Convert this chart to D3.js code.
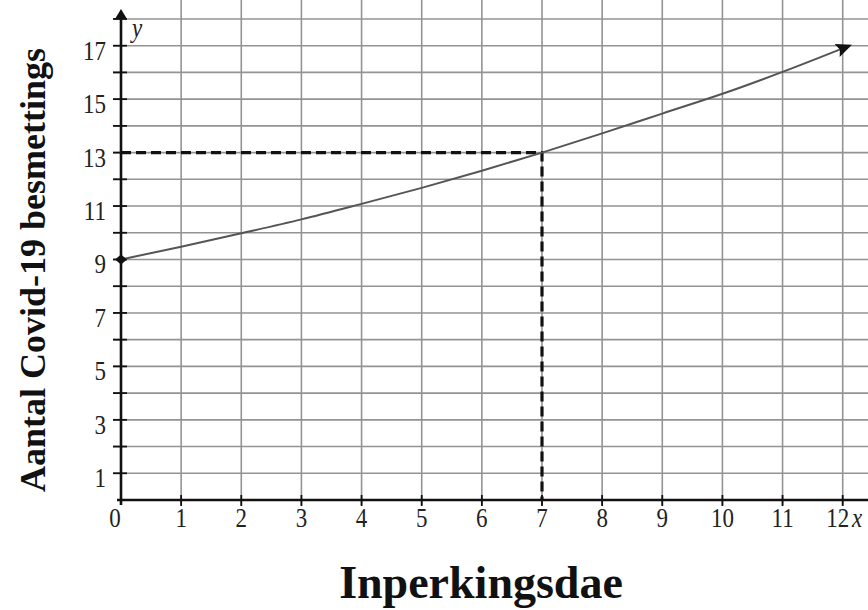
<!DOCTYPE html>
<html>
<head>
<meta charset="utf-8">
<script src="https://cdn.jsdelivr.net/npm/d3@7"></script>
<style>
  body { margin: 0; background: #fff; }
  svg { display: block; }
</style>
</head>
<body>
<div id="chart"></div>
<script>
// Values
const days = [0, 1, 2, 3, 4, 5, 6, 7, 8, 9, 10, 11, 12];
const infections = [9, 9.48, 9.98, 10.5, 11.08, 11.68, 12.32, 13, 13.72, 14.46, 15.2, 16.02, 16.9];
const xTickLabels = [0, 1, 2, 3, 4, 5, 6, 7, 8, 9, 10, 11, 12];
const yTickLabels = [1, 3, 5, 7, 9, 11, 13, 15, 17];
const marked = { x: 7, y: 13 };

const width = 868;
const height = 610;
const serif = '"Liberation Serif", "Times New Roman", serif';

const svg = d3.select('#chart').append('svg')
  .attr('width', width)
  .attr('height', height);

const x = d3.scaleLinear().domain([0, 12]).range([121, 842.7]);
const y = d3.scaleLinear().domain([0, 17]).range([500, 45.7]);

// grid: every unit both ways
const grid = svg.append('g')
  .attr('stroke', '#939393')
  .attr('stroke-width', 1.6);

grid.selectAll('line.h')
  .data(d3.range(1, 19))
  .join('line')
  .attr('class', 'h')
  .attr('x1', x(0) - 8)
  .attr('x2', width)
  .attr('y1', (d) => y(d))
  .attr('y2', (d) => y(d));

grid.selectAll('line.v')
  .data(d3.range(1, 13))
  .join('line')
  .attr('class', 'v')
  .attr('x1', (d) => x(d))
  .attr('x2', (d) => x(d))
  .attr('y1', 0)
  .attr('y2', y(0) + 5);

// axes
const axes = svg.append('g').attr('stroke', '#111').attr('stroke-width', 2.6);
axes.append('line')
  .attr('x1', x(0)).attr('x2', x(0))
  .attr('y1', y(0) + 5).attr('y2', 16);
axes.append('line')
  .attr('x1', x(0) - 4).attr('x2', width)
  .attr('y1', y(0)).attr('y2', y(0));

// small tick marks on the axes
axes.selectAll('line.yt')
  .data(d3.range(1, 19))
  .join('line')
  .attr('class', 'yt')
  .attr('stroke-width', 1.8)
  .attr('x1', x(0) - 8).attr('x2', x(0) + 6)
  .attr('y1', (d) => y(d)).attr('y2', (d) => y(d));

axes.selectAll('line.xt')
  .data(d3.range(1, 13))
  .join('line')
  .attr('class', 'xt')
  .attr('stroke-width', 1.8)
  .attr('x1', (d) => x(d)).attr('x2', (d) => x(d))
  .attr('y1', y(0) - 5).attr('y2', y(0) + 6);

// y axis arrow head
svg.append('path')
  .attr('d', `M${x(0)},9 L${x(0) - 6},19 L${x(0) + 6},19 Z`)
  .attr('fill', '#111');

// tick labels (the scan is a bit stretched vertically)
svg.append('g')
  .selectAll('text')
  .data(yTickLabels)
  .join('text')
  .attr('transform', (d) => `translate(${x(0) - 15},${y(d) + 14}) scale(1,1.2)`)
  .attr('text-anchor', 'end')
  .style('font', `23px ${serif}`)
  .attr('fill', '#222')
  .text((d) => d);

// first and last x labels sit a little left of their grid line
const xShift = (d) => (d === 0 ? -6 : d === 12 ? -5 : 0);
svg.append('g')
  .selectAll('text')
  .data(xTickLabels)
  .join('text')
  .attr('transform', (d) => `translate(${x(d) + xShift(d)},${y(0) + 27}) scale(1,1.15)`)
  .attr('text-anchor', 'middle')
  .style('font', `23px ${serif}`)
  .attr('fill', '#222')
  .text((d) => d);

svg.append('text')
  .attr('transform', `translate(852,${y(0) + 27}) scale(1,1.15)`)
  .style('font', `italic 23px ${serif}`)
  .attr('fill', '#222')
  .text('x');

svg.append('text')
  .attr('transform', 'translate(132,37) scale(1,1.2)')
  .style('font', `italic 23px ${serif}`)
  .attr('fill', '#222')
  .text('y');

// dashed guide lines to (7, 13)
svg.append('path')
  .attr('d', `M${x(0)},${y(marked.y)} H${x(marked.x)} V${y(0)}`)
  .attr('fill', 'none')
  .attr('stroke', '#111')
  .attr('stroke-width', 3.2)
  .attr('stroke-dasharray', '10,5');

// curve
const line = d3.line()
  .x((d, i) => x(days[i]))
  .y((d) => y(d))
  .curve(d3.curveMonotoneX);

svg.append('path')
  .datum(infections)
  .attr('d', line)
  .attr('fill', 'none')
  .attr('stroke', '#555')
  .attr('stroke-width', 2);

// start point and end arrow
const p0 = [x(days[0]), y(infections[0])];
svg.append('path')
  .attr('d', `M${p0[0] - 6},${p0[1]} L${p0[0]},${p0[1] - 5} L${p0[0] + 6},${p0[1]} L${p0[0]},${p0[1] + 5} Z`)
  .attr('fill', '#111');

const n = days.length - 1;
const pe = [x(days[n]), y(infections[n])];
const pa = [x(days[n - 1]), y(infections[n - 1])];
const ang = Math.atan2(pe[1] - pa[1], pe[0] - pa[0]) * 180 / Math.PI;
svg.append('path')
  .attr('d', 'M10,0 L-6,-7 L-3,0 L-6,7 Z')
  .attr('transform', `translate(${pe[0]},${pe[1]}) rotate(${ang})`)
  .attr('fill', '#111');

// axis titles
svg.append('text')
  .attr('transform', 'translate(45,270) rotate(-90)')
  .attr('text-anchor', 'middle')
  .style('font', `bold 36px ${serif}`)
  .attr('fill', '#111')
  .text('Aantal Covid-19 besmettings');

svg.append('text')
  .attr('x', 481).attr('y', 598)
  .attr('text-anchor', 'middle')
  .style('font', `bold 46px ${serif}`)
  .attr('fill', '#111')
  .text('Inperkingsdae');
</script>
</body>
</html>
